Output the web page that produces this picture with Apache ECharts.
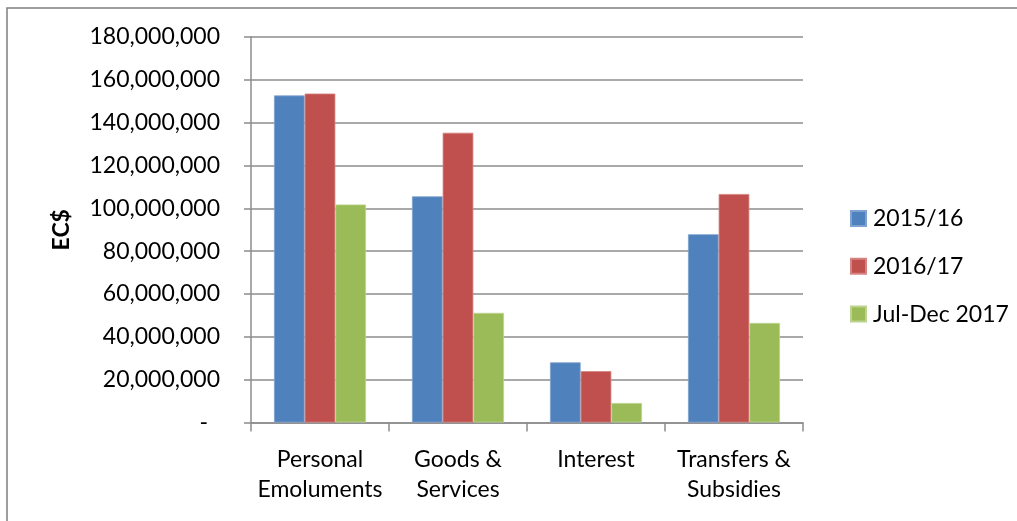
<!DOCTYPE html>
<html>
<head>
<meta charset="utf-8">
<script src="https://cdn.jsdelivr.net/npm/echarts@6/dist/echarts.min.js"></script>
<style>
  html, body { margin: 0; padding: 0; background: #ffffff; }
  #chart { width: 1017px; height: 521px; }
</style>
</head>
<body>
<div id="chart"></div>
<script>
// Expenditure by economic category (EC$)
const categories = ['Personal\nEmoluments', 'Goods &\nServices', 'Interest', 'Transfers &\nSubsidies'];
const seriesNames = ['2015/16', '2016/17', 'Jul-Dec 2017'];
const values2015 = [152700000, 105600000, 28100000, 87900000];
const values2016 = [153600000, 135300000, 24000000, 106700000];
const valuesJulDec2017 = [101800000, 51200000, 9100000, 46500000];
const yTicks = { min: 0, max: 180000000, interval: 20000000 };

const colors = ['#4F81BD', '#C0504D', '#9BBB59'];
const edgeColors = ['#7FA3D0', '#D68482', '#BCD48E'];
const FONT = 'Lato, "Open Sans", sans-serif';
const GRID_GREY = '#8C8C8C';

const chart = echarts.init(document.getElementById('chart'), null, { renderer: 'canvas' });

function fmt(v) {
  if (v === 0) return '{z|-}';
  return v.toLocaleString('en-US');
}

const seriesData = [values2015, values2016, valuesJulDec2017];

chart.setOption({
  animation: false,
  backgroundColor: '#ffffff',
  graphic: [{
    type: 'rect',
    shape: { x: 7, y: 8, width: 1200, height: 700 },
    style: { fill: 'none', stroke: '#7F7F7F', lineWidth: 1.5 },
    silent: true
  }],
  grid: { left: 251, right: 214, top: 37, bottom: 98.5, containLabel: false },
  legend: {
    orient: 'vertical',
    left: 845,
    top: 202,
    itemWidth: 15,
    itemHeight: 15,
    itemGap: 24.8,
    icon: 'rect',
    textStyle: { fontFamily: FONT, fontSize: 23, color: '#000', padding: [0, 0, 0, 2] },
    data: seriesNames
  },
  xAxis: {
    type: 'category',
    data: categories,
    axisLine: { show: true, lineStyle: { color: GRID_GREY, width: 1.5 } },
    axisTick: { show: true, length: 9, alignWithLabel: false, lineStyle: { color: GRID_GREY, width: 1.5 } },
    axisLabel: {
      interval: 0,
      margin: 22,
      fontFamily: FONT,
      fontSize: 23,
      lineHeight: 30,
      color: '#000',
      align: 'center'
    },
    splitLine: { show: false }
  },
  yAxis: {
    type: 'value',
    min: yTicks.min,
    max: yTicks.max,
    interval: yTicks.interval,
    name: 'EC$',
    nameLocation: 'middle',
    nameRotate: 90,
    nameGap: 178,
    nameTextStyle: { fontFamily: FONT, fontSize: 23, fontWeight: 'bold', color: '#000' },
    axisLine: { show: true, lineStyle: { color: GRID_GREY, width: 1.5 } },
    axisTick: { show: true, length: 7, lineStyle: { color: GRID_GREY, width: 1.5 } },
    axisLabel: {
      margin: 31,
      fontFamily: FONT,
      fontSize: 23,
      color: '#000',
      formatter: fmt,
      rich: { z: { fontFamily: FONT, fontSize: 23, color: '#000', padding: [0, 12, 0, 0] } }
    },
    splitLine: { show: true, lineStyle: { color: GRID_GREY, width: 1.5 } }
  },
  series: seriesNames.map((name, i) => ({
    name: name,
    type: 'bar',
    data: seriesData[i],
    barGap: '0%',
    barCategoryGap: '33.3%',
    itemStyle: { color: colors[i], borderColor: edgeColors[i], borderWidth: 0.8 }
  }))
});
</script>
</body>
</html>
